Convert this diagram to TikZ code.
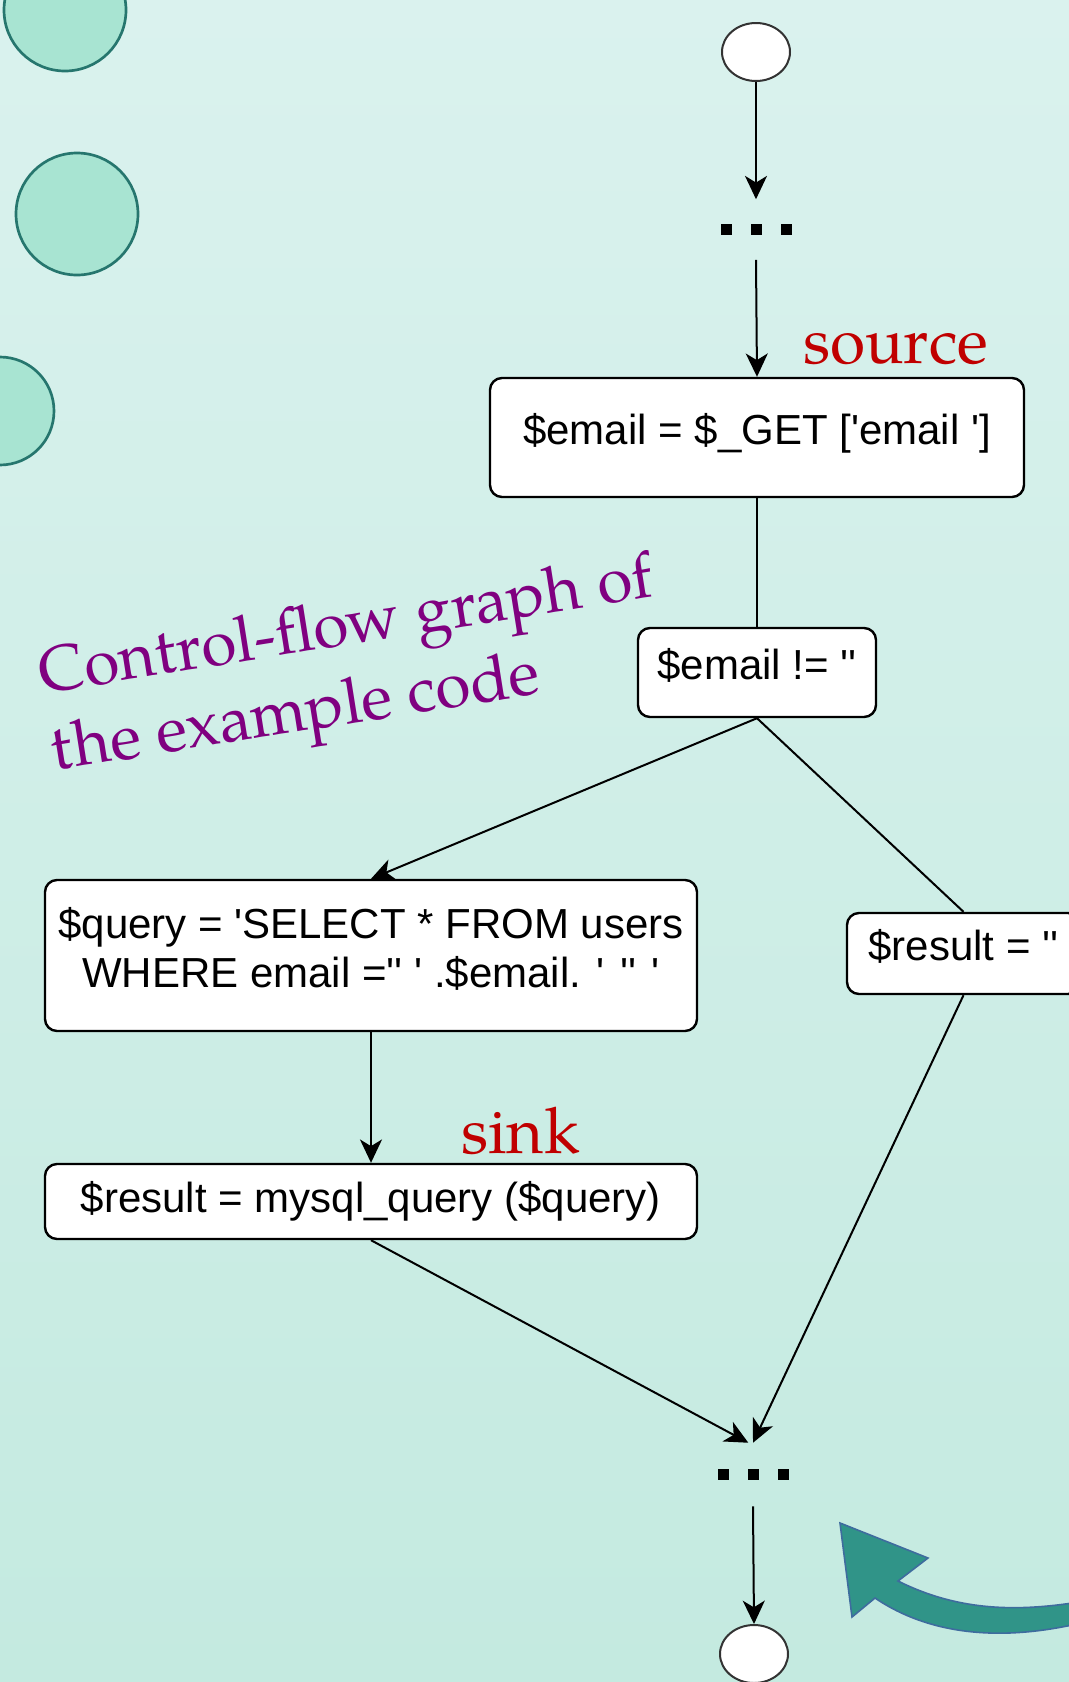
\documentclass[tikz,border=0pt]{standalone}
\usepackage{fontspec}
\newfontfamily\codefont{Liberation Sans}
\newfontfamily\slidefont{texgyrepagella-regular.otf}
\usetikzlibrary{shapes}
\usetikzlibrary{arrows.meta}
\definecolor{bgtop}{RGB}{218,242,238}
\definecolor{bgbottom}{RGB}{196,234,224}
\definecolor{discfill}{RGB}{168,228,210}
\definecolor{discline}{RGB}{38,118,110}
\definecolor{slidered}{RGB}{192,0,0}
\definecolor{slidepurple}{RGB}{128,0,128}
\definecolor{bendfill}{RGB}{48,148,136}
\definecolor{bendline}{RGB}{62,108,158}
\newcommand{\dotrow}{\rule{8.25pt}{8.25pt}\hspace{14.25pt}\rule{8.25pt}{8.25pt}\hspace{14.25pt}\rule{8.25pt}{8.25pt}}

\begin{document}
\begin{tikzpicture}[x=0.75pt, y=-0.75pt,
    stmt/.style={draw, line width=1.8pt, rounded corners=9pt, fill=white, inner sep=0pt, align=center, font=\codefont\fontsize{31.5}{36.75}\selectfont},
    lift/.style={text depth=12.5pt},
    term/.style={draw=black!80, line width=1.5pt, ellipse, fill=white, inner sep=0pt, minimum width=51pt, minimum height=43.5pt},
    more/.style={inner sep=0pt, minimum height=45pt},
    flow/.style={line width=1.5pt, -{Stealth[length=17.5pt, width=16.5pt, inset=5pt]}},
    link/.style={line width=1.5pt},
    note/.style={inner sep=0pt, font=\slidefont\fontsize{48}{58.5}\selectfont},
    disc/.style={draw=discline, line width=2pt, fill=discfill}
    ]
\useasboundingbox (0,0) rectangle (1069,1682);
\clip (0,0) rectangle (1069,1682);
\shade[top color=bgtop, bottom color=bgbottom] (0,0) rectangle (1069,1682);

% decoration on the left
\draw[disc] (65,10) circle[radius=61];
\draw[disc] (77,214) circle[radius=61];
\draw[disc] (0,411) circle[radius=54];

% control-flow graph
\node[term] at (756,52) (BEG) {};
\node[more] at (756,229.5) (DOT1) {\dotrow};
\node[stmt, lift, minimum width=400.5pt, minimum height=89.25pt] at (757,437.5) (SRC) {\$email = \$\_GET ['email ']};
\node[stmt, lift, minimum width=178.5pt, minimum height=66.75pt] at (757,672.5) (CHK) {\$email != ''};
\node[stmt, lift, minimum width=489pt, minimum height=113.25pt] at (371,955.5) (QRY) {\$query = 'SELECT * FROM users\\WHERE email ='' ' .\$email. ' '' '};
\node[stmt, lift, minimum width=174.75pt, minimum height=60.75pt] at (963.5,953.5) (RES) {\$result = ''};
\node[stmt, minimum width=489pt, minimum height=56.25pt] at (371,1201.5) (SNK) {\$result = mysql\_query (\$query)};
\node[more, minimum height=47.25pt] at (753,1474.5) (DOT2) {\dotrow};
\node[term] at (754,1654) (FIN) {};

\draw[flow] (BEG.south) -- (DOT1.north);
\draw[flow] (DOT1.south) -- (SRC.north);
\draw[link] (SRC.south) -- (CHK.north);
\draw[flow] (CHK.south) -- (QRY.north);
\draw[link] (CHK.south) -- (RES.north);
\draw[flow] (QRY.south) -- (SNK.north);
\draw[flow] (SNK.south) -- ([xshift=-3.5pt]DOT2.north);
\draw[flow] (RES.south) -- (DOT2.north);
\draw[flow] (DOT2.south) -- (FIN.north);

% labels
\node[note, text=slidered, anchor=base west] at (803,363) (SRCTAG) {source};
\node[note, text=slidered, anchor=base west] at (461,1153) (SNKTAG) {sink};
\node[note, text=slidepurple, align=left, rotate=9, anchor=north west] at (35,647) (CAPTION) {Control-flow graph of\\the example code};

% bent arrow
\draw[draw=bendline, line width=1.2pt, fill=bendfill] (840,1523) -- (928,1558) -- (898,1581)
    .. controls (960,1612) and (1020,1612) .. (1085,1601) -- (1085,1622)
    .. controls (1020,1638) and (940,1642) .. (875,1598) -- (852,1617) -- cycle;
\end{tikzpicture}
\end{document}
